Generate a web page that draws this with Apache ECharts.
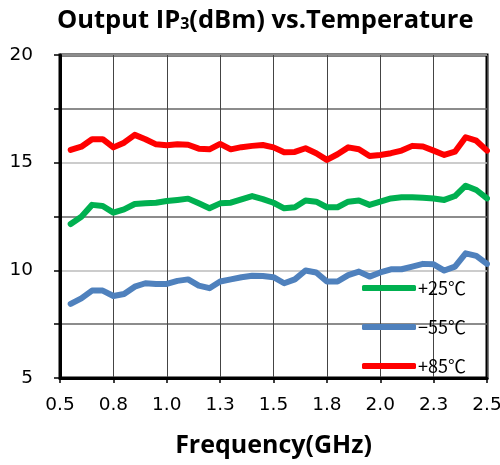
<!DOCTYPE html>
<html><head><meta charset="utf-8">
<script src="https://cdn.jsdelivr.net/npm/echarts@6/dist/echarts.min.js"></script>
<style>html,body{margin:0;padding:0;background:#fff}#c{width:500px;height:465px}</style>
</head><body><div id="c"></div>
<script>
var freq = [0.55,0.60,0.65,0.70,0.75,0.80,0.85,0.90,0.95,1.00,1.05,1.10,1.15,1.20,1.25,1.30,1.35,1.40,1.45,1.50,1.55,1.60,1.65,1.70,1.75,1.80,1.85,1.90,1.95,2.00,2.05,2.10,2.15,2.20,2.25,2.30,2.35,2.40,2.45,2.50];
var p25 = [12.15,12.49,13.04,12.99,12.68,12.83,13.08,13.11,13.14,13.22,13.27,13.33,13.11,12.88,13.11,13.14,13.30,13.45,13.31,13.14,12.88,12.93,13.24,13.19,12.93,12.93,13.19,13.24,13.04,13.19,13.34,13.39,13.39,13.37,13.34,13.27,13.45,13.93,13.73,13.34];
var m55 = [8.44,8.70,9.06,9.06,8.81,8.90,9.24,9.40,9.37,9.37,9.51,9.58,9.29,9.17,9.48,9.58,9.68,9.75,9.74,9.68,9.40,9.58,9.99,9.90,9.48,9.48,9.78,9.94,9.71,9.90,10.05,10.05,10.17,10.30,10.28,9.99,10.17,10.79,10.67,10.30];
var p85 = [15.59,15.74,16.09,16.09,15.71,15.93,16.29,16.09,15.85,15.81,15.86,15.83,15.65,15.62,15.87,15.62,15.72,15.78,15.82,15.71,15.48,15.50,15.67,15.44,15.13,15.39,15.71,15.62,15.31,15.36,15.44,15.56,15.78,15.75,15.56,15.36,15.51,16.18,16.02,15.56];
var names = ['+25℃','−55℃','+85℃'];
var colors = ['#00b050','#4f81bd','#ff0000'];

function pairs(v){ return freq.map(function(f,i){ return [f, v[i]]; }); }

var chart = echarts.init(document.getElementById('c'), null, {renderer:'canvas'});
var font = 'DejaVu Sans';
var tfont = 'Open Sans';
chart.setOption({
  animation:false,
  title:{
    text:'{a|Output IP}{b|3}{a|(dBm) vs.Temperature}',
    left:52, top:3,
    textStyle:{rich:{
      a:{fontFamily:tfont,fontWeight:'bold',fontSize:25.5,color:'#000'},
      b:{fontFamily:tfont,fontWeight:'bold',fontSize:16,color:'#000',padding:[6,0,0,0]}
    }}
  },
  grid:{left:60,right:13,top:55,bottom:87,containLabel:false,outerBoundsMode:'none',show:true,borderColor:'#000',borderWidth:3,backgroundColor:'transparent'},
  legend:{
    orient:'vertical', left:357, top:274, itemWidth:54, itemHeight:6, itemGap:21,
    icon:'roundRect',
    data:names,
    textStyle:{fontFamily:'Noto Sans CJK JP',fontSize:18,color:'#000',padding:[0,0,0,-3]}
  },
  xAxis:{
    type:'value', min:0.5, max:2.5, interval:0.25,
    name:'Frequency(GHz)', nameLocation:'middle', nameGap:55,
    nameTextStyle:{fontFamily:tfont,fontWeight:'bold',fontSize:25,color:'#000'},
    axisLine:{show:true,lineStyle:{color:'#000',width:3}},
    axisTick:{show:true,length:5,lineStyle:{color:'#000',width:1.5}},
    axisLabel:{fontFamily:font,fontSize:18.5,color:'#000',margin:18,formatter:function(v){return v.toFixed(1);}},
    splitLine:{show:true,lineStyle:{color:'#444',width:1}}
  },
  yAxis:{
    type:'value', min:5, max:20, interval:2.5,
    axisLine:{show:true,lineStyle:{color:'#000',width:3}},
    axisTick:{show:true,length:6,lineStyle:{color:'#000',width:1.5}},
    axisLabel:{color:'#000',margin:51,align:'left',
      formatter:function(v){return v%5===0?'{v|'+v+'}':'';},
      rich:{v:{fontFamily:font,fontSize:18.5,color:'#000',width:24,align:'right'}}},
    splitLine:{show:true,lineStyle:{color:['#bbb','#666'],width:1.6}}
  },
  series:[p25,m55,p85].map(function(v,i){
    return {name:names[i],type:'line',data:pairs(v),symbol:'none',smooth:false,
      color:colors[i],
      lineStyle:{color:colors[i],width:6,cap:'round',join:'round'}};
  })
});
</script></body></html>
